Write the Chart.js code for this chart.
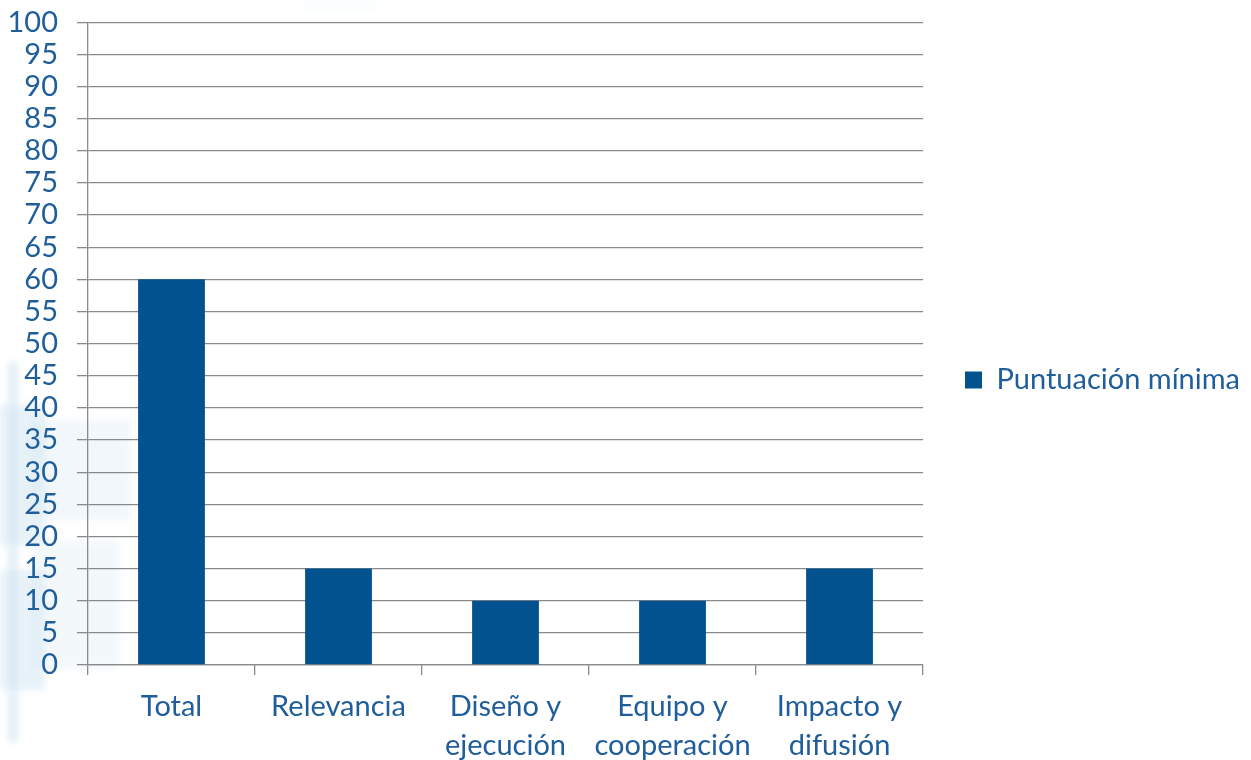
<!DOCTYPE html>
<html>
<head>
<meta charset="utf-8">
<script src="https://cdn.jsdelivr.net/npm/chart.js@4.4.1/dist/chart.umd.min.js"></script>
<style>
  html, body { margin: 0; padding: 0; background: #ffffff; }
  #wrap { position: relative; width: 1251px; height: 760px; overflow: hidden; }
  .wm { position: absolute; background: #d3e6f3; filter: blur(3px); }
  canvas { position: absolute; left: 0; top: 0; }
</style>
</head>
<body>
<div id="wrap">
  <div class="wm" style="left:8px;top:362px;width:10px;height:380px;opacity:0.6"></div>
  <div class="wm" style="left:0;top:405px;width:45px;height:140px;opacity:0.5"></div>
  <div class="wm" style="left:0;top:570px;width:45px;height:120px;opacity:0.5"></div>
  <div class="wm" style="left:30px;top:420px;width:100px;height:100px;opacity:0.3"></div>
  <div class="wm" style="left:30px;top:540px;width:90px;height:130px;opacity:0.25"></div>
  <div class="wm" style="left:300px;top:0;width:80px;height:12px;opacity:0.08"></div>
  <canvas id="c" width="1251" height="760"></canvas>
</div>
<script>
const categories = [["Total"], ["Relevancia"], ["Diseño y", "ejecución"], ["Equipo y", "cooperación"], ["Impacto y", "difusión"]];
const seriesName = "Puntuación mínima";
const seriesValues = [60, 15, 10, 10, 15];
const yTickMin = 0, yTickMax = 100, yTickStep = 5;

const textColor = '#1F5E9B';
const barColor = '#02528F';
const gridColor = '#8a8a8a';
const fontFamily = 'Lato, "Open Sans", sans-serif';

new Chart(document.getElementById('c'), {
  type: 'bar',
  data: {
    labels: categories,
    datasets: [{
      label: seriesName,
      data: seriesValues,
      backgroundColor: barColor,
      borderWidth: 0,
      barPercentage: 0.4,
      categoryPercentage: 1.0
    }]
  },
  options: {
    responsive: false,
    animation: false,
    layout: { padding: { top: 0, right: 1, bottom: 0, left: 0 } },
    plugins: {
      tooltip: { enabled: false },
      legend: {
        position: 'right',
        maxWidth: 400,
        labels: {
          color: textColor,
          font: { family: fontFamily, size: 29 },
          boxWidth: 17,
          boxHeight: 17,
          padding: 42
        }
      }
    },
    scales: {
      x: {
        afterFit: s => { s.height = 95; },
        grid: { display: true, drawOnChartArea: false, drawTicks: true, tickLength: 10, offset: true, color: gridColor, lineWidth: 1.3 },
        border: { display: true, color: gridColor, width: 1.3 },
        ticks: { color: textColor, font: { family: fontFamily, size: 29, lineHeight: 1.34 }, padding: 12, maxRotation: 0, autoSkip: false }
      },
      y: {
        min: yTickMin, max: yTickMax,
        afterFit: s => { s.width = 88; },
        grid: { color: gridColor, lineWidth: 1.3, drawTicks: true, tickLength: 11 },
        border: { display: true, color: gridColor, width: 1.3 },
        ticks: { stepSize: yTickStep, autoSkip: false, color: textColor, font: { family: fontFamily, size: 29, lineHeight: 0.22 }, padding: 19 }
      }
    }
  }
});
</script>
</body>
</html>
